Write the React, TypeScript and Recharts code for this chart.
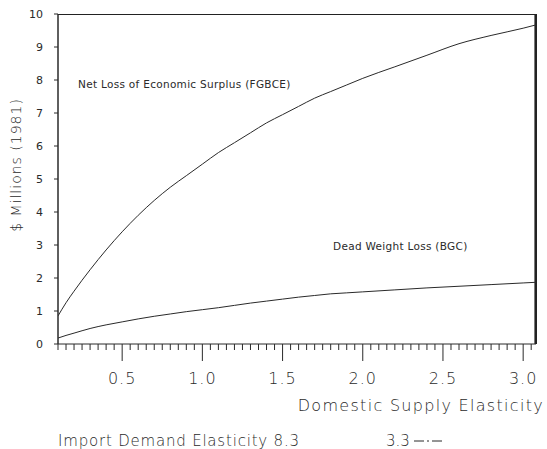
import { LineChart, Line, XAxis, YAxis, CartesianGrid, Customized } from 'recharts';

// domestic supply elasticity (x) and losses in $ millions (1981)
const elasticity = [0.1, 0.15, 0.2, 0.3, 0.4, 0.5, 0.6, 0.7, 0.8, 0.9, 1.0, 1.1, 1.2, 1.3, 1.4, 1.5, 1.6, 1.7, 1.8, 1.9, 2.0, 2.2, 2.4, 2.6, 2.8, 3.0, 3.08];
const netLoss = [0.85, 1.25, 1.6, 2.25, 2.85, 3.4, 3.9, 4.35, 4.75, 5.1, 5.45, 5.8, 6.1, 6.4, 6.7, 6.95, 7.2, 7.45, 7.65, 7.85, 8.05, 8.4, 8.75, 9.1, 9.35, 9.57, 9.67];
const deadWeight = [0.18, 0.26, 0.33, 0.47, 0.58, 0.67, 0.76, 0.84, 0.91, 0.98, 1.04, 1.1, 1.17, 1.24, 1.3, 1.36, 1.42, 1.47, 1.52, 1.55, 1.58, 1.64, 1.7, 1.75, 1.8, 1.85, 1.87];

const xMajorTicks = [0.5, 1.0, 1.5, 2.0, 2.5, 3.0];
const yTicks = [0, 1, 2, 3, 4, 5, 6, 7, 8, 9, 10];
const xMin = 0.1;
const xMax = 3.08;
const yMax = 10;

// minor ticks every 0.05 along the x axis
const xAllTicks: number[] = [];
for (let i = 2; i <= 61; i++) xAllTicks.push(Math.round(i * 5) / 100);

const data = elasticity.map((e, i) => ({ e, net: netLoss[i], dwl: deadWeight[i] }));

const FONT = '"DejaVu Sans", sans-serif';
const INK = '#2a2a2a';

// chart layout
const W = 547;
const H = 449;
const margin = { top: 14, right: 11, bottom: 0, left: 8 };
const yAxisW = 50;
const xAxisH = 105;
const plotLeft = margin.left + yAxisW;
const plotRight = W - margin.right;
const plotTop = margin.top;
const plotBottom = H - xAxisH;

const XTick = (props: any) => {
  const { x, y, payload } = props;
  const v = payload.value;
  const major = xMajorTicks.some((m) => Math.abs(m - v) < 1e-6);
  return (
    <g>
      <line x1={x} y1={y} x2={x} y2={y + (major ? 17 : 6)} stroke={INK} strokeWidth={1} />
      {major && (
        <text x={x} y={y + 40} textAnchor="middle" fontFamily={FONT} fontWeight={200} fontSize={16} letterSpacing={1} fill={INK}>
          {v.toFixed(1)}
        </text>
      )}
    </g>
  );
};

const Notes = () => (
  <g fontFamily={FONT} fill={INK}>
    {/* frame: right edge */}
    <rect x={plotRight - 1} y={plotTop} width={2} height={plotBottom - plotTop} fill="#222" stroke="none" />
    <text x={78} y={88} fontSize={10.5} letterSpacing={0.3}>Net Loss of Economic Surplus (FGBCE)</text>
    <text x={333} y={250} fontSize={10.5} letterSpacing={0.3}>Dead Weight Loss (BGC)</text>
    <text transform="translate(21,165) rotate(-90)" textAnchor="middle" fontSize={14} fontWeight={200} letterSpacing={1}>$ Millions (1981)</text>
    <text x={544} y={411} textAnchor="end" fontSize={16} fontWeight={200} letterSpacing={1.3}>Domestic Supply Elasticity</text>
    <text x={58} y={446} fontSize={15} fontWeight={200} letterSpacing={0.8}>Import Demand Elasticity  8.3</text>
    <text x={386} y={446} fontSize={15} fontWeight={200} letterSpacing={0}>3.3</text>
    <line x1={414} y1={441} x2={444} y2={441} stroke={INK} strokeWidth={1} strokeDasharray="10 3 2 3" />
  </g>
);

export default function App() {
  return (
    <div style={{ position: 'absolute', left: 0, top: 0, background: '#fff' }}>
      <LineChart width={W} height={H} data={data} margin={margin}>
        <CartesianGrid
          stroke="#222"
          strokeWidth={1.2}
          horizontalCoordinatesGenerator={() => [plotTop + 0.5]}
          verticalCoordinatesGenerator={() => [plotRight - 1]}
        />
        <XAxis
          dataKey="e"
          type="number"
          domain={[xMin, xMax]}
          ticks={xAllTicks}
          interval={0}
          tickSize={0}
          tickMargin={0}
          tick={<XTick />}
          height={xAxisH}
          axisLine={{ stroke: INK }}
          allowDataOverflow
        />
        <YAxis
          domain={[0, yMax]}
          ticks={yTicks}
          interval={0}
          width={yAxisW}
          tickSize={4}
          tickMargin={11}
          tickLine={{ stroke: INK }}
          axisLine={{ stroke: INK, strokeWidth: 1.5 }}
          tick={{ fontFamily: FONT, fontSize: 11, fill: INK }}
        />
        <Line dataKey="net" stroke={INK} strokeWidth={1} dot={false} type="monotone" isAnimationActive={false} />
        <Line dataKey="dwl" stroke={INK} strokeWidth={1} dot={false} type="monotone" isAnimationActive={false} />
        <Customized component={Notes} />
      </LineChart>
    </div>
  );
}
